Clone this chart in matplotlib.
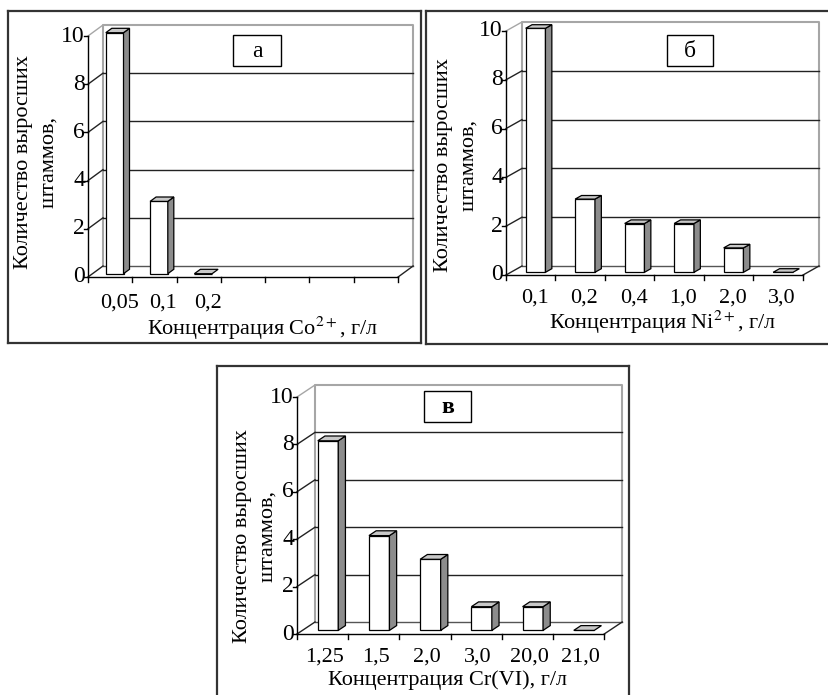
import matplotlib
matplotlib.use("Agg")
import matplotlib.pyplot as plt
from matplotlib.patches import Polygon, Rectangle

plt.rcParams['font.family'] = ['Liberation Serif', 'DejaVu Serif']
plt.rcParams['mathtext.fontset'] = 'stix'

W, H = 829, 695

# данные
y_ticks = [0, 2, 4, 6, 8, 10]

co_labels = ['0,05', '0,1', '0,2']
co_counts = [10, 3, 0]
co_slots = 7

ni_labels = ['0,1', '0,2', '0,4', '1,0', '2,0', '3,0']
ni_counts = [10, 3, 2, 2, 1, 0]

cr_labels = ['1,25', '1,5', '2,0', '3,0', '20,0', '21,0']
cr_counts = [8, 4, 3, 1, 1, 0]

ylabel = 'Количество выросших\nштаммов,'

fig = plt.figure(figsize=(W / 100, H / 100), dpi=100)

FS = 16
GRAY = '#a6a6a6'


def panel(frame, origin, w, u, depth, nslots, labels, counts, letter, box,
          xlabel, xlab_pos, ylab_pos, lab_shift, lab_dy, bold=False):
    x0, y0, x1, y1 = frame
    ax = fig.add_axes([x0 / W, 1 - y1 / H, (x1 - x0) / W, (y1 - y0) / H])
    ox, oy = origin
    ax.set_xlim((x0 - ox) / w, (x1 - ox) / w)
    ax.set_ylim((oy - y1) / u, (oy - y0) / u)
    ax.set_xticks([])
    ax.set_yticks([])
    for s in ax.spines.values():
        s.set_color('#333333')
        s.set_linewidth(1.6)

    def px(x, y):
        return (x - ox) / w, (oy - y) / u

    ddx = depth[0] / w
    ddy = depth[1] / u
    top = y_ticks[-1]

    # задняя стенка
    ax.plot([ddx, ddx, nslots + ddx, nslots + ddx],
            [ddy, top + ddy, top + ddy, ddy], color=GRAY, lw=1.5, zorder=1)
    for v in y_ticks[1:-1]:
        ax.plot([ddx, nslots + ddx], [v + ddy, v + ddy], color='#222222', lw=1.0, zorder=1)
    ax.plot([ddx, nslots + ddx], [ddy, ddy], color='#555555', lw=1.0, zorder=1)
    # боковая стенка
    for v in y_ticks:
        c = GRAY if v == top else '#222222'
        ax.plot([0, ddx], [v, v + ddy], color=c, lw=1.0, zorder=1)
    ax.plot([nslots, nslots + ddx], [0, ddy], color='#222222', lw=1.0, zorder=1)

    # столбики
    f1, f2 = 0.3, 0.7
    bw = 0.4
    n = len(counts)
    xs = [i + 0.3 + f1 * ddx for i in range(n)]
    base = f1 * ddy
    ax.bar(xs, counts, width=bw, bottom=base, align='edge', facecolor='white',
           edgecolor='black', lw=0.9, zorder=3)
    sx = (f2 - f1) * ddx
    sy = (f2 - f1) * ddy
    for xl, v in zip(xs, counts):
        xr = xl + bw
        if v > 0:
            ax.add_patch(Polygon([(xr, base), (xr, base + v), (xr + sx, base + v + sy),
                                  (xr + sx, base + sy)], closed=True,
                                 facecolor='#8c8c8c', edgecolor='black', lw=0.9, zorder=3))
        ax.add_patch(Polygon([(xl, base + v), (xr, base + v), (xr + sx, base + v + sy),
                              (xl + sx, base + v + sy)], closed=True,
                             facecolor='#c8c8c8', edgecolor='black', lw=0.9, zorder=3))

    # передние оси
    tl_x = 4 / w
    tl_y = 5 / u
    ax.plot([0, 0], [0, top], color='black', lw=1.0, zorder=4)
    ax.plot([0, nslots], [0, 0], color='black', lw=1.0, zorder=4)
    for v in y_ticks:
        ax.plot([-tl_x, 0], [v, v], color='black', lw=1.0, zorder=4)
        ax.text(-tl_x + 1 / w, v, str(v), ha='right', va='center', fontsize=FS + 1)
    for i in range(nslots + 1):
        ax.plot([i, i], [0, -tl_y], color='black', lw=1.0, zorder=4)
    for i, lab in enumerate(labels):
        ax.text(i + 0.5 + lab_shift / w, -lab_dy / u, lab, ha='center', va='center',
                fontsize=FS)

    ax.text(*px(*xlab_pos), xlabel, ha='center', va='center', fontsize=FS)
    ax.text(*px(*ylab_pos), ylabel, ha='center', va='center', fontsize=FS,
            rotation=90, multialignment='center', linespacing=1.4)

    bx0, by0, bx1, by1 = box
    ax.add_patch(Rectangle(px(bx0, by1), (bx1 - bx0) / w, (by1 - by0) / u,
                           facecolor='white', edgecolor='black', lw=1.0, zorder=5))
    ax.text(*px((bx0 + bx1) / 2, (by0 + by1) / 2 + 1), letter, ha='center', va='center',
            fontsize=FS + 1, zorder=6, fontweight='bold' if bold else 'normal')


panel((8, 11, 421, 343), (88, 277), 44.3, 24.1, (15, 11), co_slots,
      co_labels, co_counts, 'а', (233, 35, 281, 66),
      'Концентрация Co$^{2+}$, г/л', (263, 328), (36, 162), 9, 26)

panel((426, 11, 830, 344), (506, 275), 49.5, 24.4, (16, 9), len(ni_labels),
      ni_labels, ni_counts, 'б', (667, 35, 713, 66),
      'Концентрация Ni$^{2+}$, г/л', (663, 322), (456, 165), 4, 23)

panel((217, 366, 629, 699), (297, 634), 51.2, 23.7, (18, 12), len(cr_labels),
      cr_labels, cr_counts, 'в', (424, 391, 471, 422),
      'Концентрация Cr(VI), г/л', (448, 680), (255, 536), 2, 23, bold=True)

fig.savefig('out.png', dpi=100)
